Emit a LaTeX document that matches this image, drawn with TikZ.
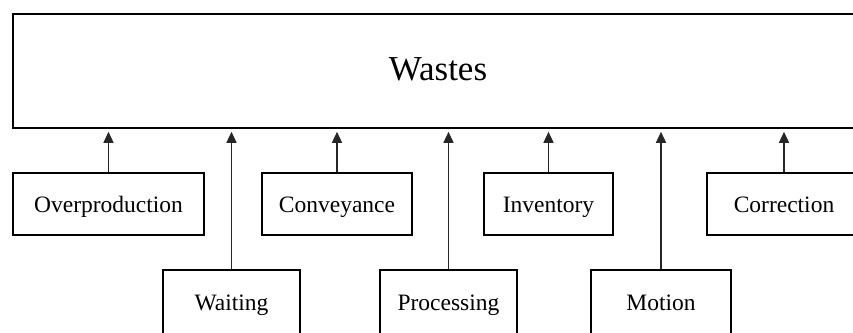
\documentclass[tikz,border=0pt]{standalone}
\usepackage{fontspec}
\setmainfont{Liberation Serif}
\usetikzlibrary{arrows.meta}
\begin{document}
\begin{tikzpicture}[x=1pt,y=-1pt,
  boxstyle/.style={draw=black, line width=2.6pt, fill=white, inner sep=0pt},
  wastebox/.style={boxstyle, minimum width=191pt, minimum height=62pt,
    font=\fontsize{23.5}{28}\selectfont, text height=19pt, text depth=3pt},
  feed/.style={draw=black!85, line width=1.5pt,
    -{Triangle[width=10pt,length=11pt]}, shorten >=2.5pt}]
  \useasboundingbox (0,0) rectangle (853,332);
  \clip (0,0) rectangle (853,332);

  % main box
  \node[boxstyle, minimum width=850pt, minimum height=114pt,
        font=\fontsize{35}{40}\selectfont, text height=25pt, text depth=7pt]
        (wastes) at (438,71) {Wastes};

  % upper row of causes
  \node[wastebox, minimum width=191pt] (over) at (108.5,204) {Overproduction};
  \node[wastebox, minimum width=150pt] (conv) at (337,204) {Conveyance};
  \node[wastebox, minimum width=129pt] (inv)  at (548.5,204) {Inventory};
  \node[wastebox, minimum width=154pt] (corr) at (784,204) {Correction};

  % lower row of causes
  \node[wastebox, minimum width=137pt, minimum height=64pt] (wait) at (231.5,302) {Waiting};
  \node[wastebox, minimum width=137pt, minimum height=64pt] (proc) at (448.5,302) {Processing};
  \node[wastebox, minimum width=140pt, minimum height=64pt] (mot)  at (661,302) {Motion};

  % connectors into the main box
  \foreach \n in {over,wait,conv,proc,inv,mot,corr}
    \draw[feed] (\n.north) -- (wastes.south -| \n.north);
\end{tikzpicture}
\end{document}
